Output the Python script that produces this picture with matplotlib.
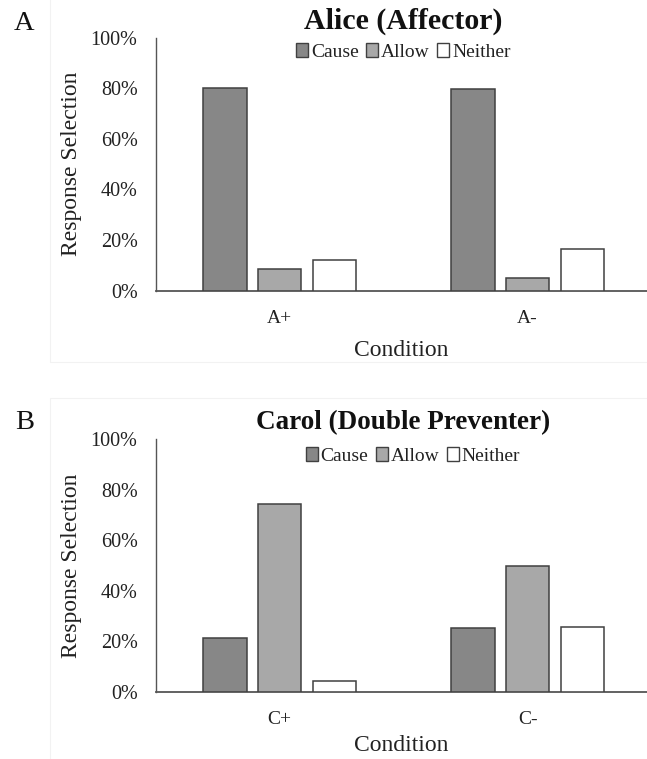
import matplotlib
matplotlib.use("Agg")
import matplotlib.pyplot as plt
from matplotlib.patches import Patch, Rectangle
import numpy as np

plt.rcParams['font.family'] = ['Liberation Serif', 'DejaVu Serif']

series = ["Cause", "Allow", "Neither"]
colors = ["#878787", "#a8a8a8", "#ffffff"]

top_title = "Alice (Affector)"
top_categories = ["A+", "A-"]
top_values = {
    "Cause": [0.80, 0.796],
    "Allow": [0.087, 0.051],
    "Neither": [0.123, 0.164],
}

bottom_title = "Carol (Double Preventer)"
bottom_categories = ["C+", "C-"]
bottom_values = {
    "Cause": [0.215, 0.252],
    "Allow": [0.744, 0.497],
    "Neither": [0.045, 0.256],
}

yticks = [0, 0.2, 0.4, 0.6, 0.8, 1.0]
ytick_labels = ["0%", "20%", "40%", "60%", "80%", "100%"]

W, H = 647, 759
fig = plt.figure(figsize=(W / 100, H / 100), dpi=100)

def fx(x):
    return x / W

def fy(y):
    return 1 - y / H

# faint panel borders
fig.patches.append(Rectangle((fx(49.5), fy(362)), 1, fy(0) - fy(362) + 0.1, transform=fig.transFigure,
                             fill=False, edgecolor="#f2f2f2", lw=0.8))
fig.patches.append(Rectangle((fx(49.5), fy(759) - 0.01), 1, fy(398) - fy(759) + 0.01, transform=fig.transFigure,
                             fill=False, edgecolor="#f2f2f2", lw=0.8))

def panel(top_px, bottom_px, cats, vals, title, title_y, title_size, letter, letter_y, legend_xy, xlabelpad):
    ax = fig.add_axes([fx(155.6), fy(bottom_px), 1 - fx(155.6), (bottom_px - top_px) / H])
    x = np.arange(len(cats))
    width = 0.175
    step = 0.2206
    for i, s in enumerate(series):
        ax.bar(x + (i - 1) * step, vals[s], width, color=colors[i], edgecolor="#404040", linewidth=1.1, zorder=3)
    ax.set_xlim(-0.5, 1.4815)
    ax.set_ylim(0, 1.0)
    ax.set_yticks(yticks)
    ax.set_yticklabels(ytick_labels, fontsize=14.5, color="#222222")
    ax.set_xticks(x)
    ax.set_xticklabels(cats, fontsize=14, color="#222222")
    ax.tick_params(axis='y', length=0, pad=13)
    ax.tick_params(axis='x', length=0, pad=14)
    for sp in ["top", "right"]:
        ax.spines[sp].set_visible(False)
    ax.spines["left"].set_color("#555555")
    ax.spines["left"].set_linewidth(1.0)
    ax.spines["bottom"].set_color("#555555")
    ax.spines["bottom"].set_linewidth(1.3)
    ax.set_xlabel("Condition", fontsize=17, color="#222222", labelpad=xlabelpad)
    ax.set_ylabel("Response Selection", fontsize=17, color="#222222", labelpad=6)
    fig.text(fx(403.6), fy(title_y), title, fontsize=title_size, fontweight="bold",
             ha="center", va="center", color="#111111")
    fig.text(fx(24.5), fy(letter_y), letter, fontsize=20.5, ha="center", va="center", color="#111111")
    handles = [Patch(facecolor=colors[i], edgecolor="#404040", linewidth=1.0, label=s)
               for i, s in enumerate(series)]
    fig.legend(handles=handles, loc="center", bbox_to_anchor=(fx(legend_xy[0]), fy(legend_xy[1])),
               ncol=3, frameon=False, fontsize=14, handlelength=0.6, handleheight=0.7,
               handletextpad=0.15, columnspacing=0.4, borderpad=0, labelcolor="#222222")
    return ax

panel(37.7, 290.7, top_categories, top_values, top_title, 21.7, 21.5, "A", 24, (403.4, 52.3), 9)
panel(439.3, 692, bottom_categories, bottom_values, bottom_title, 423, 19.5, "B", 422.7, (413, 456.3), 5)

fig.savefig("out.png", dpi=100)
